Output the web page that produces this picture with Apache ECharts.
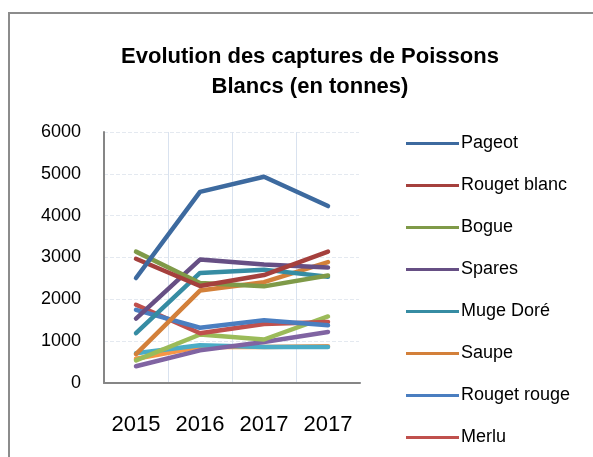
<!DOCTYPE html>
<html style="height: 100%">
<head>
<meta charset="utf-8">
<script src="https://cdn.jsdelivr.net/npm/echarts@6/dist/echarts.min.js"></script>
</head>
<body style="height: 100%; margin: 0; background: #fff">
<div id="container" style="width: 593px; height: 457px"></div>
<script>
// years on the x axis (the last one really is 2017 twice in the source)
var years = ['2015', '2016', '2017', '2017'];

var pageot      = [2510, 4570, 4930, 4230];
var rougetBlanc = [2970, 2320, 2580, 3140];
var bogue       = [3140, 2390, 2310, 2570];
var spares      = [1540, 2950, 2830, 2760];
var mugeDore    = [1190, 2630, 2710, 2540];
var saupe       = [690, 2210, 2410, 2890];
var rougetRouge = [1750, 1320, 1500, 1380];
var merlu       = [1870, 1190, 1410, 1460];
var serie9      = [540, 1160, 1040, 1590];
var serie10     = [400, 780, 980, 1220];
var serie11     = [710, 900, 860, 860];
var serie12     = [580, 860, 860, 880];

var names = ['Pageot', 'Rouget blanc', 'Bogue', 'Spares', 'Muge Doré', 'Saupe',
             'Rouget rouge', 'Merlu', 'Série 9', 'Série 10', 'Série 11', 'Série 12'];
var values = [pageot, rougetBlanc, bogue, spares, mugeDore, saupe,
              rougetRouge, merlu, serie9, serie10, serie11, serie12];
var colors = ['#3d6a9f', '#a5403d', '#7f9a48', '#664f84', '#368ca3', '#d3803a',
              '#4a7ec0', '#c0504d', '#9bbb59', '#8064a2', '#4bacc6', '#f79646'];

var dom = document.getElementById('container');
var myChart = echarts.init(dom);

var series = [];
for (var i = 0; i < names.length; i++) {
    series.push({
        name: names[i],
        type: 'line',
        data: values[i],
        showSymbol: false,
        smooth: false,
        z: 20 - i,
        lineStyle: { color: colors[i], width: 4.5, cap: 'round', join: 'round' },
        itemStyle: { color: colors[i] }
    });
}

var option = {
    animation: false,
    textStyle: { fontFamily: 'Liberation Sans' },
    graphic: [{
        type: 'rect',
        shape: { x: 9, y: 13, width: 700, height: 600 },
        style: { fill: 'none', stroke: '#8c8c8c', lineWidth: 2 },
        silent: true
    }, {
        // no vertical gridline on the right edge of the plot in the original
        type: 'line',
        z: 1,
        shape: { x1: 360, y1: 131, x2: 360, y2: 382 },
        style: { stroke: '#fff', lineWidth: 2 },
        silent: true
    }],
    title: {
        text: 'Evolution des captures de Poissons\nBlancs (en tonnes)',
        left: 305,
        textAlign: 'center',
        top: 37,
        textStyle: {
            fontFamily: 'Liberation Sans',
            fontWeight: 'bold',
            fontSize: 22,
            lineHeight: 30,
            color: '#000'
        }
    },
    legend: {
        data: names.slice(0, 8),
        orient: 'vertical',
        left: 401,
        top: 128,
        itemWidth: 53,
        itemHeight: 3,
        itemGap: 21,
        icon: 'rect',
        textStyle: { fontSize: 18, color: '#000', padding: [0, 0, 0, -3], height: 21, lineHeight: 21 }
    },
    grid: { left: 104, top: 132, width: 256, height: 251, containLabel: false },
    xAxis: {
        type: 'category',
        data: years,
        boundaryGap: true,
        axisLine: { lineStyle: { color: '#868686', width: 2 } },
        axisTick: { show: false },
        axisLabel: { fontSize: 22, color: '#000', margin: 31 },
        splitLine: { show: true, lineStyle: { color: '#d9e2ef', width: 1 } }
    },
    yAxis: {
        type: 'value',
        min: 0,
        max: 6000,
        interval: 1000,
        axisLine: { show: true, lineStyle: { color: '#868686', width: 2 } },
        axisTick: { show: false },
        axisLabel: { fontSize: 18, color: '#000', margin: 23, formatter: function (v) { return String(v); } },
        splitLine: { show: true, lineStyle: { color: '#e4e9f0', width: 1, type: 'dashed' } }
    },
    series: series
};

if (option && typeof option === 'object') {
    myChart.setOption(option);
}
</script>
</body>
</html>
